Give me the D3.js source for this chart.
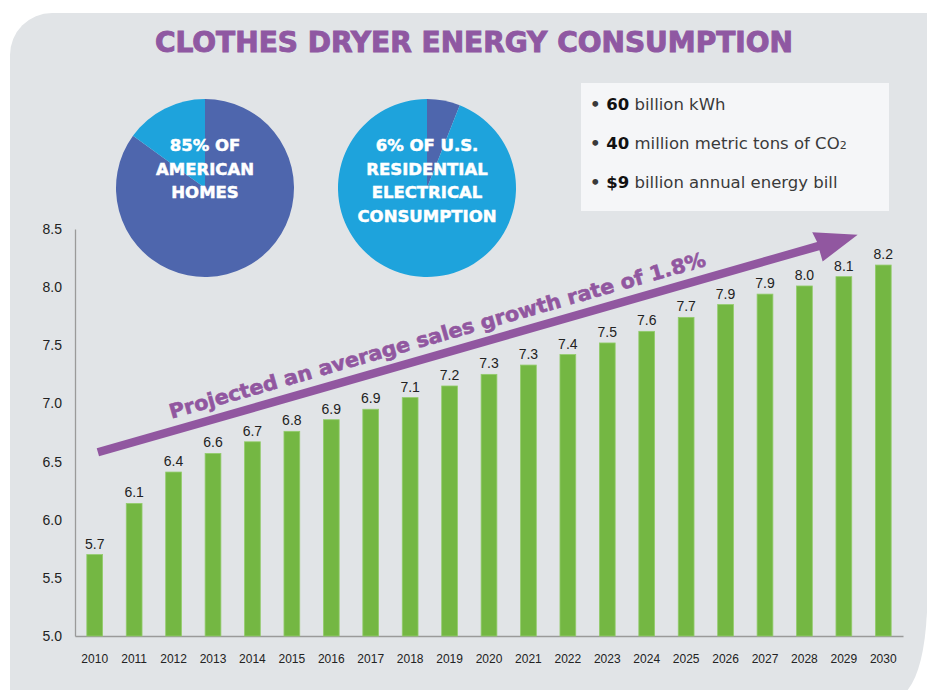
<!DOCTYPE html>
<html>
<head>
<meta charset="utf-8">
<script src="https://cdn.jsdelivr.net/npm/d3@7"></script>
<style>
  body { margin: 0; background: #fff; }
  svg { display: block; }
</style>
</head>
<body>
<div id="chart"></div>
<script>
// chart values
var years = ["2010","2011","2012","2013","2014","2015","2016","2017","2018","2019","2020",
             "2021","2022","2023","2024","2025","2026","2027","2028","2029","2030"];
var values = [5.70, 6.14, 6.41, 6.57, 6.67, 6.76, 6.86, 6.95, 7.05, 7.15, 7.25,
              7.33, 7.42, 7.52, 7.62, 7.74, 7.85, 7.94, 8.01, 8.09, 8.19];
var valueLabels = ["5.7","6.1","6.4","6.6","6.7","6.8","6.9","6.9","7.1","7.2","7.3",
                   "7.3","7.4","7.5","7.6","7.7","7.9","7.9","8.0","8.1","8.2"];
var yTicks = [5.0, 5.5, 6.0, 6.5, 7.0, 7.5, 8.0, 8.5];

var homesShare = [85, 15];        // % of american homes with a dryer
var residentialShare = [6, 94];   // % of US residential electrical consumption
var pieLabels1 = ["85% OF", "AMERICAN", "HOMES"];
var pieLabels2 = ["6% OF U.S.", "RESIDENTIAL", "ELECTRICAL", "CONSUMPTION"];

var facts = [
  { bold: "60", text: " billion kWh" },
  { bold: "40", text: " million metric tons of CO", sub: "2" },
  { bold: "$9", text: " billion annual energy bill" }
];

// growth arrow, in (year index, value) terms
var arrowFrom = [0.08, 6.58];
var arrowTo = [19.35, 8.45];
var arrowText = "Projected an average sales growth rate of 1.8%";

var W = 927, H = 690;
var purple = "#8f58a2";
var darkBlue = "#4e66ad", lightBlue = "#1ea3dc";
var green = "#74b743";

var svg = d3.select("#chart").append("svg")
  .attr("width", W).attr("height", H);

// background panel, rounded top-left and bottom-right
svg.append("path")
  .attr("d", "M10,55 A42,42 0 0 1 52,13 L927,13 L927,612 Q924,672 906,692 L10,692 Z")
  .attr("fill", "#e1e4e7");

svg.append("text")
  .attr("x", 474).attr("y", 52)
  .attr("text-anchor", "middle")
  .attr("textLength", 638).attr("lengthAdjust", "spacingAndGlyphs")
  .style("font-family", "DejaVu Sans Condensed, DejaVu Sans, sans-serif")
  .style("font-weight", "bold")
  .style("font-size", "28px")
  .style("fill", purple)
  .style("stroke", purple)
  .style("stroke-width", 0.9)
  .text("CLOTHES DRYER ENERGY CONSUMPTION");

// scales
var x = d3.scaleBand().domain(years).range([75, 903]).paddingInner(0.6).paddingOuter(0.3);
var y = d3.scaleLinear().domain([5, 8.5]).range([636, 229]);
var xi = function (i) { return x(years[0]) + x.bandwidth() / 2 + i * x.step(); };

// axes
var yAxis = d3.axisLeft(y).tickValues(yTicks).tickFormat(d3.format(".1f")).tickSize(0).tickPadding(13);
var gy = svg.append("g").attr("transform", "translate(75,0)").call(yAxis);
gy.select(".domain").attr("stroke", "#9a9a9a").attr("stroke-width", 1.3);
gy.selectAll("text")
  .style("font-family", "Liberation Sans, Arial, sans-serif")
  .style("font-size", "14px")
  .style("fill", "#222");

var xAxis = d3.axisBottom(x).tickSize(0).tickPadding(18);
var gx = svg.append("g").attr("transform", "translate(0,636)").call(xAxis);
gx.select(".domain").attr("stroke", "#9a9a9a").attr("stroke-width", 1.3);
gx.selectAll("text")
  .style("font-family", "Liberation Sans, Arial, sans-serif")
  .style("font-size", "12px")
  .style("fill", "#222");

// pies
var pie = d3.pie().sort(null);
var arc = d3.arc().innerRadius(0).outerRadius(89);

function drawPie(cx, cy, data, colors, lines) {
  var g = svg.append("g").attr("transform", "translate(" + cx + "," + cy + ")");
  g.selectAll("path")
    .data(pie(data))
    .enter().append("path")
    .attr("d", arc)
    .attr("fill", function (d, i) { return colors[i]; });
  g.selectAll("text")
    .data(lines)
    .enter().append("text")
    .attr("x", 0)
    .attr("y", function (d, i) { return -37 + i * 23.7; })
    .attr("text-anchor", "middle")
    .style("font-family", "DejaVu Sans, sans-serif")
    .style("font-weight", "bold")
    .style("font-size", "16.5px")
    .style("fill", "#fff")
    .style("stroke", "#fff")
    .style("stroke-width", 0.5)
    .text(function (d) { return d; });
}
drawPie(205, 188, homesShare, [darkBlue, lightBlue], pieLabels1);
drawPie(427, 188, residentialShare, [darkBlue, lightBlue], pieLabels2);

// facts box
svg.append("rect")
  .attr("x", 581).attr("y", 83).attr("width", 308).attr("height", 128)
  .attr("fill", "#f5f6f8");

var ft = svg.selectAll(".fact")
  .data(facts)
  .enter().append("text")
  .attr("class", "fact")
  .attr("x", 590)
  .attr("y", function (d, i) { return 110 + i * 39; })
  .style("font-family", "DejaVu Sans, sans-serif")
  .style("font-size", "16.5px")
  .style("fill", "#3a3a3a");
ft.append("tspan").style("font-weight", "bold").text("\u2022 ");
ft.append("tspan").style("font-weight", "bold").style("fill", "#111").text(function (d) { return d.bold; });
ft.append("tspan").text(function (d) { return d.text; });
ft.filter(function (d) { return d.sub; })
  .append("tspan").style("font-size", "11px").text(function (d) { return d.sub; });

// bars
svg.selectAll(".bar")
  .data(values)
  .enter().append("rect")
  .attr("class", "bar")
  .attr("x", function (d, i) { return x(years[i]); })
  .attr("y", function (d) { return y(d); })
  .attr("width", x.bandwidth())
  .attr("height", function (d) { return y(5) - y(d); })
  .attr("fill", green)
  .attr("stroke", "#93cc6c")
  .attr("stroke-width", 0.8);

svg.selectAll(".vlabel")
  .data(values)
  .enter().append("text")
  .attr("class", "vlabel")
  .attr("x", function (d, i) { return x(years[i]) + x.bandwidth() / 2; })
  .attr("y", function (d) { return y(d) - 6; })
  .attr("text-anchor", "middle")
  .style("font-family", "Liberation Sans, Arial, sans-serif")
  .style("font-size", "14px")
  .style("fill", "#222")
  .text(function (d, i) { return valueLabels[i]; });

// growth arrow
var ax0 = xi(arrowFrom[0]), ay0 = y(arrowFrom[1]);
var ax1 = xi(arrowTo[0]), ay1 = y(arrowTo[1]);
var len = Math.hypot(ax1 - ax0, ay1 - ay0);
var ang = Math.atan2(ay1 - ay0, ax1 - ax0) * 180 / Math.PI;

var ga = svg.append("g")
  .attr("transform", "translate(" + ax0 + "," + ay0 + ") rotate(" + ang + ")");
ga.append("path")
  .attr("d", d3.line()([[0, -4.2], [len - 41, -4.2], [len - 43, -15], [len, 0],
                        [len - 41, 16], [len - 41, 4.2], [0, 4.2]]) + "Z")
  .attr("fill", "#9157a0");
ga.append("text")
  .attr("x", 80).attr("y", -12)
  .attr("textLength", 557).attr("lengthAdjust", "spacingAndGlyphs")
  .style("font-family", "DejaVu Sans, sans-serif")
  .style("font-weight", "bold")
  .style("font-size", "20px")
  .style("fill", "#9157a0")
  .style("stroke", "#9157a0")
  .style("stroke-width", 0.6)
  .text(arrowText);
</script>
</body>
</html>
